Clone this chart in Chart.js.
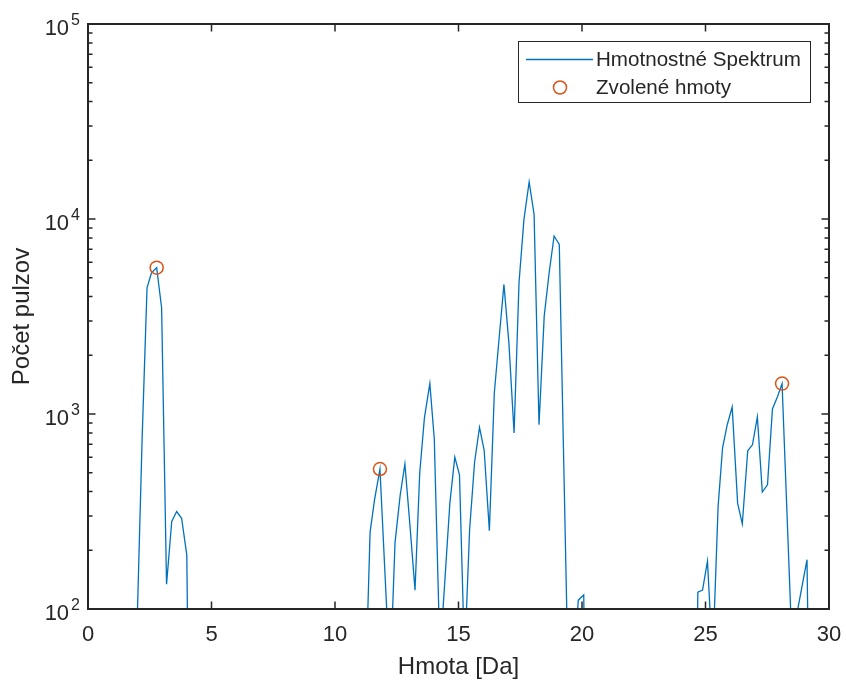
<!DOCTYPE html>
<html>
<head>
<meta charset="utf-8">
<script src="https://cdn.jsdelivr.net/npm/chart.js@4.4.1/dist/chart.umd.min.js"></script>
<style>
    body { margin: 0; background: #ffffff; }
    canvas { display: block; }
</style>
</head>
<body>
<canvas id="grafiek" width="846" height="682"></canvas>
<script>
// ---- DATA ----
const hmoty = [
    1.6, 1.8, 2.0, 2.19, 2.39, 2.57, 2.78, 2.98, 3.18, 3.39, 3.59, 3.79, 4.0, 4.2,
    6.0, 8.0, 10.0, 11.02, 11.22, 11.42, 11.6, 11.82, 12.11, 12.22, 12.32, 12.43, 12.64, 12.83,
    13.04, 13.24, 13.43, 13.62, 13.84, 14.02, 14.21, 14.28, 14.35, 14.65, 14.85, 15.04, 15.2, 15.25,
    15.31, 15.45, 15.65, 15.85, 16.04, 16.25, 16.45, 16.64, 16.84, 17.04, 17.25, 17.45, 17.65, 17.86,
    18.06, 18.26, 18.47, 18.67, 18.87, 19.08, 19.39, 19.6, 19.8, 19.85, 20.07, 20.27,
    22.0, 24.0, 24.49, 24.69, 24.88, 25.08, 25.2, 25.28, 25.35, 25.51, 25.69, 25.88, 26.08, 26.3,
    26.49, 26.71, 26.9, 27.1, 27.3, 27.51, 27.71, 27.91, 28.1, 28.46, 28.56, 28.67, 29.11, 29.31, 29.6, 30.0
];
const pulzy = [
    30, 40, 95, 740, 4440, 5300, 5630, 3505, 134, 281, 316, 292, 189, 1,
    2, 2, 2, 5, 33, 247, 363, 522, 90, 20, 90, 219, 385, 554,
    263, 125, 498, 955, 1432, 744, 90, 20, 90, 349, 601, 488, 90, 20,
    90, 255, 564, 855, 650, 252, 1282, 2410, 4618, 2317, 799, 4710, 9950, 15490,
    10560, 881, 3175, 5300, 8180, 7410, 90, 10, 90, 111, 118, 1,
    2, 2, 1, 122, 125, 176, 90, 20, 90, 335, 669, 881, 1086, 349,
    273, 648, 695, 966, 398, 433, 1061, 1222, 1432, 90, 20, 90, 179, 2, 3, 3
];
const zvoleneHmoty = [2.78, 11.82, 28.1];
const zvolenePulzy = [5630, 522, 1432];

const xTicks = [0, 5, 10, 15, 20, 25, 30];
const yExponenty = [2, 3, 4, 5];
const nazvy = ["Hmotnostné Spektrum", "Zvolené hmoty"];

const FONT = "'Liberation Sans', Arial, sans-serif";
const TEXT = "#262626";
const MODRA = "#0072BD";
const ORANZ = "#D95319";

// ---- ASSEN, TICKS, LEGENDA ----
const assen = {
    id: "assen",
    afterDatasetsDraw(chart) {
        const ctx = chart.ctx;
        const a = chart.chartArea;
        const xs = chart.scales.x;
        const ys = chart.scales.y;
        ctx.save();
        ctx.strokeStyle = TEXT;
        ctx.lineWidth = 1.5;
        ctx.beginPath();
        xTicks.forEach(v => {
            const px = xs.getPixelForValue(v);
            ctx.moveTo(px, a.bottom); ctx.lineTo(px, a.bottom - 7.5);
            ctx.moveTo(px, a.top); ctx.lineTo(px, a.top + 7.5);
        });
        yExponenty.forEach(e => {
            const py = ys.getPixelForValue(Math.pow(10, e));
            ctx.moveTo(a.left, py); ctx.lineTo(a.left + 7.5, py);
            ctx.moveTo(a.right, py); ctx.lineTo(a.right - 7.5, py);
            if (e < yExponenty[yExponenty.length - 1]) {
                for (let m = 2; m <= 9; m++) {
                    const pm = ys.getPixelForValue(m * Math.pow(10, e));
                    ctx.moveTo(a.left, pm); ctx.lineTo(a.left + 4.5, pm);
                    ctx.moveTo(a.right, pm); ctx.lineTo(a.right - 4.5, pm);
                }
            }
        });
        ctx.stroke();
        ctx.lineWidth = 2;
        ctx.strokeRect(a.left, a.top, a.right - a.left, a.bottom - a.top);

        // y labels 10^n
        ctx.fillStyle = TEXT;
        ctx.textAlign = "right";
        ctx.textBaseline = "alphabetic";
        yExponenty.forEach(e => {
            const py = ys.getPixelForValue(Math.pow(10, e));
            ctx.font = "16px " + FONT;
            const w = ctx.measureText(String(e)).width;
            ctx.fillText(String(e), 80, py + 1);
            ctx.font = "22px " + FONT;
            ctx.fillText("10", 80 - w - 2, py + 11);
        });

        // legenda
        ctx.fillStyle = "#ffffff";
        ctx.fillRect(518, 41, 293, 62);
        ctx.strokeStyle = TEXT;
        ctx.lineWidth = 1;
        ctx.strokeRect(518.5, 41.5, 292, 61);
        ctx.strokeStyle = MODRA;
        ctx.lineWidth = 1.3;
        ctx.beginPath();
        ctx.moveTo(526, 59.5); ctx.lineTo(593, 59.5);
        ctx.stroke();
        ctx.strokeStyle = ORANZ;
        ctx.lineWidth = 1.5;
        ctx.beginPath();
        ctx.arc(560, 87.5, 6.5, 0, Math.PI * 2);
        ctx.stroke();
        ctx.fillStyle = TEXT;
        ctx.textAlign = "left";
        ctx.textBaseline = "middle";
        ctx.font = "20.6px " + FONT;
        ctx.fillText(nazvy[0], 596, 60);
        ctx.fillText(nazvy[1], 596, 88);
        ctx.restore();
    }
};

const spektrum = hmoty.map((h, i) => ({ x: h, y: pulzy[i] }));
const zvolene = zvoleneHmoty.map((h, i) => ({ x: h, y: zvolenePulzy[i] }));

const ctx = document.getElementById("grafiek").getContext("2d");
const grafiek = new Chart(ctx, {
    type: "line",
    data: {
        datasets: [{
            label: nazvy[0],
            data: spektrum,
            borderColor: MODRA,
            borderWidth: 1.3,
            pointRadius: 0,
            fill: false,
            tension: 0,
            clip: 0,
            order: 1
        }, {
            label: nazvy[1],
            data: zvolene,
            showLine: false,
            pointStyle: "circle",
            pointRadius: 6.5,
            pointBorderWidth: 1.5,
            pointBorderColor: ORANZ,
            pointBackgroundColor: "rgba(0,0,0,0)",
            borderColor: ORANZ,
            backgroundColor: "rgba(0,0,0,0)",
            clip: false,
            order: 0
        }]
    },
    options: {
        responsive: false,
        animation: false,
        devicePixelRatio: 1,
        layout: { padding: { left: 0, right: 17, top: 24, bottom: 0 } },
        plugins: {
            legend: { display: false },
            tooltip: { enabled: false }
        },
        scales: {
            x: {
                type: "linear",
                min: 0,
                max: 30,
                grid: { display: false, drawTicks: false },
                border: { display: false },
                afterBuildTicks: s => { s.ticks = xTicks.map(v => ({ value: v })); },
                afterFit: s => {
                    s.height = 73;
                    s.paddingLeft = 0;
                    s.paddingRight = 0;
                },
                ticks: {
                    font: { family: FONT, size: 22 },
                    color: TEXT,
                    padding: 13,
                    maxRotation: 0,
                    autoSkip: false
                },
                title: {
                    display: true,
                    text: "Hmota [Da]",
                    font: { family: FONT, size: 24 },
                    color: TEXT,
                    padding: { top: 0, bottom: 0 }
                }
            },
            y: {
                type: "logarithmic",
                min: 100,
                max: 100000,
                grid: { display: false, drawTicks: false },
                border: { display: false },
                afterFit: s => {
                    s.width = 88;
                    s.paddingTop = 0;
                    s.paddingBottom = 0;
                },
                ticks: { display: false },
                title: {
                    display: true,
                    text: "Počet pulzov",
                    font: { family: FONT, size: 24 },
                    color: TEXT,
                    padding: { top: 8, bottom: 0 }
                }
            }
        }
    },
    plugins: [assen]
});
</script>
</body>
</html>
